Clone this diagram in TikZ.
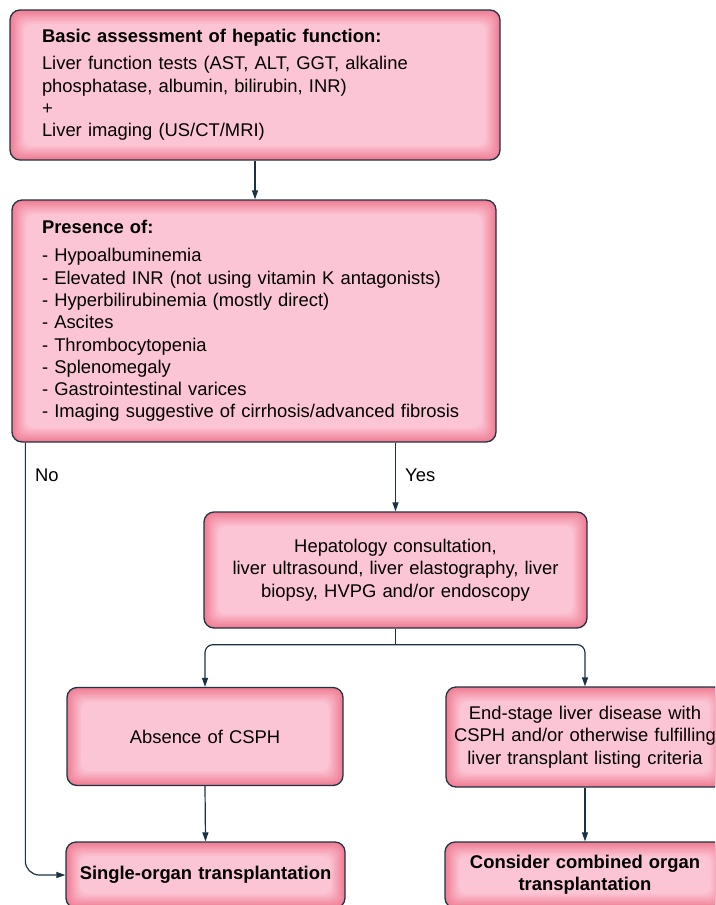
\documentclass[tikz,border=0pt]{standalone}
\usepackage{fontspec}
\setmainfont{Liberation Sans}
\usetikzlibrary{calc,arrows.meta}
\definecolor{edgepink}{HTML}{F07C93}
\definecolor{centerpink}{HTML}{FCC5D5}
\definecolor{boxborder}{HTML}{1E3444}
\definecolor{linecol}{HTML}{1B3244}
\begin{document}
\begin{tikzpicture}[x=1pt,y=-1pt,
  pinkbox/.style={draw=boxborder, line width=1.3pt, rounded corners=10pt, fill=edgepink, inner sep=0pt,
    font=\fontsize{18.4pt}{22.3pt}\selectfont,
    path picture={\foreach \i in {1,...,16}{\pgfmathtruncatemacro\p{\i*100/16}
      \fill[centerpink!\p!edgepink, rounded corners=8pt]
        ($(path picture bounding box.south west)+(\i*0.9pt,\i*0.9pt)$) rectangle
        ($(path picture bounding box.north east)-(\i*0.9pt,\i*0.9pt)$);}}},
  arr/.style={draw=linecol, line width=1.2pt, -{Triangle[length=9pt,width=6pt]}},
  plain/.style={draw=linecol, line width=1.2pt},
  lbl/.style={font=\fontsize{18.4pt}{22pt}\selectfont, inner sep=0pt}
]
\useasboundingbox (0,0) rectangle (715,905);
\clip (0,0) rectangle (715,905);

\node[pinkbox, minimum width=490pt, minimum height=150pt, text width=426pt, align=left] (b1) at (255,85)
  {\textbf{Basic assessment of hepatic function:}\\[5pt]
   Liver function tests (AST, ALT, GGT, alkaline\\
   phosphatase, albumin, bilirubin, INR)\\
   +\\
   Liver imaging (US/CT/MRI)};

\node[pinkbox, minimum width=484pt, minimum height=242pt, text width=424pt, align=left] (b2) at (254,321)
  {\textbf{Presence of:}\\[6pt]
   - Hypoalbuminemia\\
   - Elevated INR (not using vitamin K antagonists)\\
   - Hyperbilirubinemia (mostly direct)\\
   - Ascites\\
   - Thrombocytopenia\\
   - Splenomegaly\\
   - Gastrointestinal varices\\
   - Imaging suggestive of cirrhosis/advanced fibrosis};

\node[pinkbox, minimum width=383pt, minimum height=116pt, text width=370pt, align=center] (b3) at (395.5,570)
  {Hepatology consultation,\\
   liver ultrasound, liver elastography, liver\\
   biopsy, HVPG and/or endoscopy};

\node[pinkbox, minimum width=276pt, minimum height=98pt, text width=260pt, align=center] (b4) at (205,736.5)
  {Absence of CSPH};

\node[pinkbox, minimum width=278pt, minimum height=100pt, text width=276pt, align=center] (b5) at (585,737)
  {End-stage liver disease with\\
   CSPH and/or otherwise fulfilling\\
   liver transplant listing criteria};

\node[pinkbox, minimum width=279pt, minimum height=66pt, text width=270pt, align=center] (b6) at (205.5,875)
  {\textbf{Single-organ transplantation}};

\node[pinkbox, minimum width=280pt, minimum height=66pt, text width=270pt, align=center] (b7) at (585,875)
  {\textbf{Consider combined organ}\\
   \textbf{transplantation}};

\draw[arr] (b1.south) -- (b1.south |- b2.north);
\draw[arr] (b2.south -| b3.north) -- (b3.north);
\node[lbl, anchor=west] (yes) at (405,475) {Yes};

\coordinate (split) at ($(b3.south)+(0,16)$);
\draw[plain] (b3.south) -- (split);
\draw[arr, rounded corners=8pt] (split) -| (b4.north);
\draw[arr, rounded corners=8pt] (split) -| (b5.north);
\draw[arr] (b4.south) -- (b6.north);
\draw[arr] (b5.south) -- (b7.north);

\coordinate (nostart) at ($(b2.south west)+(14,0)$);
\draw[arr, rounded corners=14pt] (nostart) |- (b6.west);
\node[lbl, anchor=west] (no) at (35,475) {No};
\end{tikzpicture}
\end{document}
